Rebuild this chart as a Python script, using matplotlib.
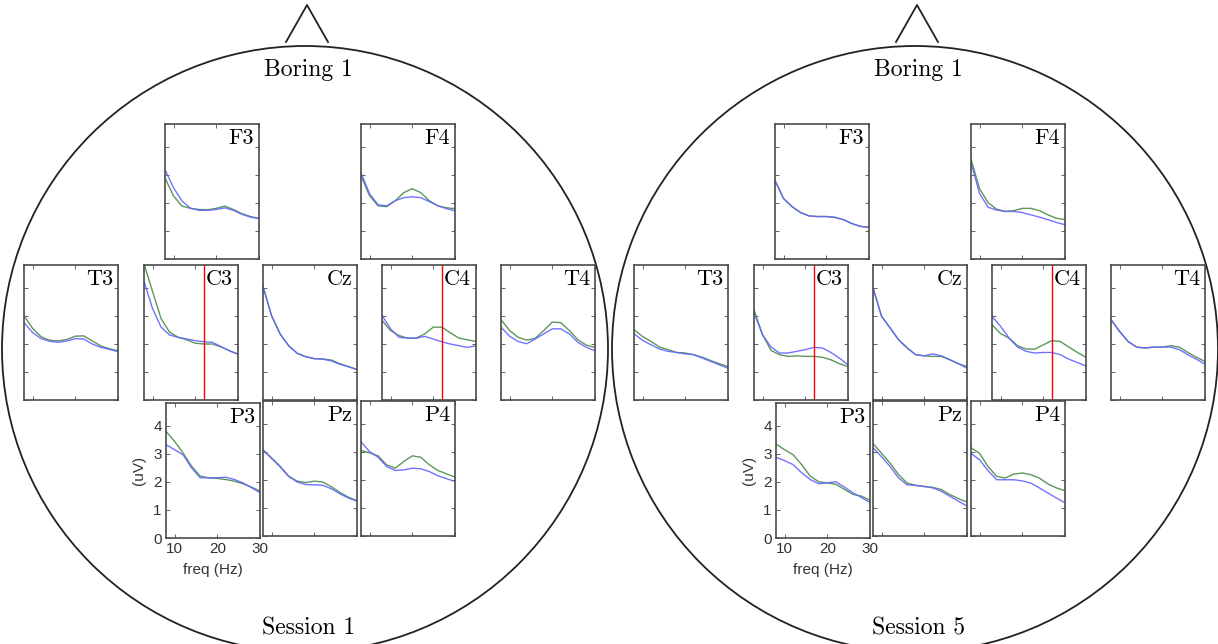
import matplotlib
matplotlib.use("Agg")
import matplotlib.pyplot as plt
from matplotlib.patches import Circle

# frequency axis shared by all panels (Hz)
freq = [8, 10, 12, 14, 16, 18, 20, 22, 24, 26, 28, 30]
marker_freq = 22
channels = ["F3", "F4", "T3", "C3", "Cz", "C4", "T4", "P3", "Pz", "P4"]
sessions = ["Session 1", "Session 5"]
condition = "Boring 1"

# Session 1
s1_green = {
    "F3": [2.88, 2.24, 1.88, 1.80, 1.76, 1.75, 1.80, 1.88, 1.76, 1.61, 1.51, 1.44],
    "F4": [2.96, 2.25, 1.89, 1.86, 2.07, 2.36, 2.50, 2.36, 2.07, 1.89, 1.82, 1.79],
    "T3": [3.00, 2.55, 2.25, 2.12, 2.10, 2.15, 2.27, 2.28, 2.10, 1.92, 1.82, 1.75],
    "C3": [4.84, 3.86, 2.89, 2.41, 2.23, 2.14, 2.02, 1.99, 1.99, 1.89, 1.75, 1.63],
    "Cz": [4.04, 3.00, 2.35, 1.93, 1.66, 1.54, 1.47, 1.46, 1.42, 1.29, 1.19, 1.09],
    "C4": [2.83, 2.47, 2.29, 2.20, 2.20, 2.35, 2.59, 2.59, 2.39, 2.20, 2.14, 2.08],
    "T4": [2.86, 2.47, 2.23, 2.13, 2.19, 2.47, 2.77, 2.75, 2.47, 2.14, 1.95, 1.87],
    "P3": [3.79, 3.44, 3.02, 2.55, 2.20, 2.14, 2.12, 2.08, 2.02, 1.93, 1.81, 1.67],
    "Pz": [3.06, 2.78, 2.48, 2.13, 1.95, 1.90, 1.95, 1.92, 1.75, 1.55, 1.38, 1.25],
    "P4": [3.04, 2.96, 2.85, 2.53, 2.41, 2.65, 2.85, 2.80, 2.53, 2.33, 2.21, 2.09],
}
s1_blue = {
    "F3": [3.18, 2.53, 2.06, 1.80, 1.73, 1.73, 1.76, 1.82, 1.73, 1.59, 1.49, 1.44],
    "F4": [3.07, 2.32, 1.93, 1.89, 2.07, 2.18, 2.21, 2.18, 2.04, 1.89, 1.79, 1.71],
    "T3": [2.75, 2.40, 2.18, 2.09, 2.05, 2.10, 2.18, 2.17, 1.99, 1.87, 1.80, 1.72],
    "C3": [4.22, 3.25, 2.59, 2.31, 2.23, 2.17, 2.11, 2.07, 2.05, 1.90, 1.75, 1.63],
    "Cz": [4.04, 3.00, 2.35, 1.93, 1.66, 1.54, 1.47, 1.45, 1.39, 1.27, 1.18, 1.08],
    "C4": [3.01, 2.53, 2.23, 2.20, 2.20, 2.26, 2.17, 2.07, 1.99, 1.93, 1.87, 1.93],
    "T4": [2.59, 2.27, 2.08, 2.00, 2.17, 2.35, 2.53, 2.53, 2.35, 2.05, 1.87, 1.75],
    "P3": [3.32, 3.14, 2.96, 2.49, 2.14, 2.14, 2.14, 2.16, 2.08, 1.96, 1.79, 1.61],
    "Pz": [3.06, 2.76, 2.46, 2.12, 1.92, 1.83, 1.82, 1.80, 1.68, 1.50, 1.35, 1.24],
    "P4": [3.35, 3.00, 2.80, 2.47, 2.33, 2.35, 2.41, 2.39, 2.29, 2.14, 2.04, 1.94],
}

# Session 5
s5_green = {
    "F3": [2.79, 2.15, 1.86, 1.65, 1.53, 1.51, 1.51, 1.48, 1.40, 1.26, 1.16, 1.13],
    "F4": [3.55, 2.50, 2.00, 1.77, 1.69, 1.72, 1.80, 1.80, 1.72, 1.57, 1.45, 1.40],
    "T3": [2.50, 2.26, 2.08, 1.88, 1.79, 1.69, 1.67, 1.61, 1.52, 1.40, 1.29, 1.19],
    "C3": [3.21, 2.32, 1.76, 1.61, 1.55, 1.57, 1.55, 1.55, 1.52, 1.43, 1.29, 1.19],
    "Cz": [3.99, 2.98, 2.56, 2.14, 1.85, 1.61, 1.57, 1.55, 1.55, 1.43, 1.29, 1.19],
    "C4": [2.68, 2.36, 2.20, 1.93, 1.81, 1.81, 1.96, 2.11, 2.08, 1.88, 1.69, 1.52],
    "T4": [2.86, 2.44, 2.08, 1.88, 1.85, 1.88, 1.88, 1.93, 1.88, 1.69, 1.52, 1.37],
    "P3": [3.34, 3.14, 2.96, 2.61, 2.20, 2.00, 1.96, 1.91, 1.73, 1.55, 1.49, 1.34],
    "Pz": [3.29, 2.94, 2.59, 2.18, 1.88, 1.80, 1.76, 1.73, 1.65, 1.47, 1.33, 1.21],
    "P4": [3.14, 2.94, 2.47, 2.12, 2.06, 2.20, 2.24, 2.18, 2.06, 1.85, 1.71, 1.61],
}
s5_blue = {
    "F3": [2.79, 2.15, 1.86, 1.65, 1.53, 1.51, 1.51, 1.48, 1.40, 1.26, 1.16, 1.13],
    "F4": [3.43, 2.33, 1.84, 1.74, 1.69, 1.69, 1.65, 1.57, 1.49, 1.40, 1.30, 1.22],
    "T3": [2.36, 2.12, 1.96, 1.81, 1.73, 1.69, 1.64, 1.61, 1.49, 1.37, 1.25, 1.13],
    "C3": [3.10, 2.32, 1.88, 1.67, 1.67, 1.73, 1.79, 1.87, 1.85, 1.69, 1.49, 1.25],
    "Cz": [3.99, 2.98, 2.56, 2.14, 1.85, 1.61, 1.57, 1.64, 1.57, 1.43, 1.29, 1.13],
    "C4": [2.98, 2.62, 2.20, 1.88, 1.73, 1.67, 1.69, 1.69, 1.61, 1.45, 1.33, 1.21],
    "T4": [2.86, 2.44, 2.08, 1.88, 1.85, 1.88, 1.88, 1.88, 1.79, 1.61, 1.45, 1.27],
    "P3": [2.87, 2.75, 2.61, 2.32, 2.08, 1.93, 1.96, 2.00, 1.81, 1.61, 1.44, 1.26],
    "Pz": [3.14, 2.82, 2.47, 2.06, 1.82, 1.80, 1.76, 1.71, 1.59, 1.41, 1.24, 1.06],
    "P4": [2.94, 2.71, 2.32, 2.00, 2.00, 2.00, 1.96, 1.88, 1.71, 1.53, 1.35, 1.18],
}

# panel boxes for the left head in pixels: (left, top)
W, H = 1218, 644
pw, ph = 94, 135
boxes = {
    "F3": (165, 124), "F4": (361, 124),
    "T3": (24, 265), "C3": (144, 265), "Cz": (263, 265), "C4": (382, 265), "T4": (501, 265),
    "P3": (166, 403), "Pz": (263, 401), "P4": (361, 401),
}
head_cx = [305, 915]
head_r = 303
head_cy = 349
frame_col = "#4a4a4a"
green = "#4a8c4a"
blue = "#6464ff"

fig = plt.figure(figsize=(W / 100, H / 100), dpi=100)

# heads drawn in pixel coordinates
bg = fig.add_axes([0, 0, 1, 1])
bg.set_xlim(0, W)
bg.set_ylim(H, 0)
bg.axis("off")
for k, cx in enumerate(head_cx):
    bg.add_patch(Circle((cx, head_cy), head_r, fill=False, lw=1.3, color="#222222"))
    bg.plot([cx - 19, cx + 2, cx + 23], [42, 5, 42], color="#222222", lw=1.3)
    bg.text(cx + 3, 70, condition, family="cmr10", fontsize=17,
            ha="center", va="center")
    bg.text(cx + 4, 628, sessions[k], family="cmr10", fontsize=17,
            ha="center", va="center")

for k, (gdata, bdata) in enumerate([(s1_green, s1_blue), (s5_green, s5_blue)]):
    off = head_cx[k] - head_cx[0]
    for ch in channels:
        x0, y0 = boxes[ch]
        ax = fig.add_axes([(x0 + off) / W, 1 - (y0 + ph) / H, pw / W, ph / H])
        ax.plot(freq, gdata[ch], color=green, lw=1.0, alpha=0.9)
        ax.plot(freq, bdata[ch], color=blue, lw=1.0, alpha=0.9)
        if ch in ("C3", "C4"):
            ax.axvline(marker_freq, color="red", lw=1.0)
        ax.set_xlim(8, 30)
        ax.set_ylim(0, 4.8)
        ax.set_xticks([10, 20, 30])
        ax.set_yticks([0, 1, 2, 3, 4])
        ax.tick_params(direction="in", length=3, width=0.6, top=True, right=True,
                       colors=frame_col, labelsize=11, pad=3)
        for s in ax.spines.values():
            s.set_color(frame_col)
            s.set_linewidth(1.2)
        ax.text(0.95, 0.97, ch, transform=ax.transAxes, family="cmr10",
                fontsize=16, ha="right", va="top")
        if ch == "P3":
            for lab in ax.get_xticklabels() + ax.get_yticklabels():
                lab.set_family("Liberation Sans")
                lab.set_color("#333333")
            ax.set_xlabel("freq (Hz)", family="Liberation Sans", fontsize=11,
                          labelpad=5, color="#333333")
            ax.set_ylabel("(uV)", family="Liberation Sans", fontsize=11,
                          labelpad=5, color="#333333")
        else:
            ax.set_xticklabels([])
            ax.set_yticklabels([])

fig.savefig("out.png", dpi=100)
